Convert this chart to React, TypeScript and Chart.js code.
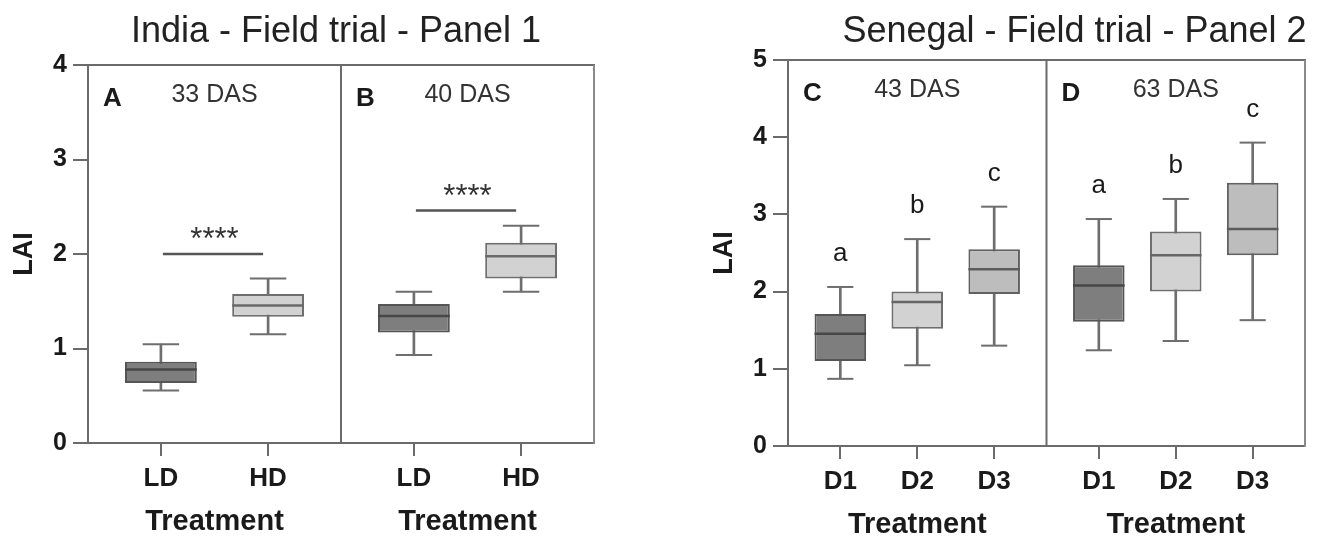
import React, { useEffect, useRef } from 'react';
import { Chart, registerables } from 'chart.js';

Chart.register(...registerables);

const FONT = '"Liberation Sans", Arial, Helvetica, sans-serif';

// ---------- India - Panel 1 ----------
const indiaTitle = 'India - Field trial - Panel 1';
const indiaPanels = ['A', 'B'];
const indiaStages = ['33 DAS', '40 DAS'];
const indiaTreatments = ['LD', 'HD'];
const indiaMin = [[0.555, 1.152], [0.93, 1.6]];
const indiaQ1 = [[0.636, 1.336], [1.17, 1.74]];
const indiaMedian = [[0.777, 1.456], [1.343, 1.976]];
const indiaQ3 = [[0.859, 1.576], [1.47, 2.12]];
const indiaMax = [[1.046, 1.74], [1.6, 2.3]];
const indiaSigLevel = [2.0, 2.46];
const indiaSigText = ['****', '****'];
const indiaYMax = 4;

// ---------- Senegal - Panel 2 ----------
const senegalTitle = 'Senegal - Field trial - Panel 2';
const senegalPanels = ['C', 'D'];
const senegalStages = ['43 DAS', '63 DAS'];
const senegalTreatments = ['D1', 'D2', 'D3'];
const senegalMin = [[0.87, 1.046, 1.3], [1.24, 1.36, 1.63]];
const senegalQ1 = [[1.1, 1.52, 1.97], [1.61, 2.0, 2.47]];
const senegalMedian = [[1.455, 1.865, 2.29], [2.08, 2.47, 2.81]];
const senegalQ3 = [[1.71, 2.0, 2.55], [2.34, 2.78, 3.41]];
const senegalMax = [[2.06, 2.68, 3.1], [2.94, 3.2, 3.93]];
const senegalLetters = [['a', 'b', 'c'], ['a', 'b', 'c']];
const senegalYMax = 5;

const xTitle = 'Treatment';
const yTitle = 'LAI';

// ---------- styles ----------
const AXIS = '#6b6b6b';
const FRAME = '#8a8a8a';
const WHISKER = '#6e6e6e';
const TEXT = '#1a1a1a';
const indiaFill = ['#7e7e7e', '#d2d2d2'];
const indiaEdge = ['#555555', '#6e6e6e'];
const indiaMed = ['#474747', '#6a6a6a'];
const senegalFill = ['#7e7e7e', '#d2d2d2', '#bdbdbd'];
const senegalEdge = ['#555555', '#6e6e6e', '#616161'];
const senegalMed = ['#474747', '#666666', '#5c5c5c'];

const M = 0.68;

type Spec = {
  title: string;
  titleDx: number;
  panels: string[];
  stages: string[];
  cats: string[];
  mins: number[][];
  q1: number[][];
  med: number[][];
  q3: number[][];
  maxs: number[][];
  yMax: number;
  sig?: number[];
  sigText?: string[];
  letters?: string[][];
  fills: string[];
  edges: string[];
  meds: string[];
  left: number;
  width: number;
  padTop: number;
  padRight: number;
  xHeight: number;
};

const indiaSpec: Spec = {
  title: indiaTitle, titleDx: -5, panels: indiaPanels, stages: indiaStages, cats: indiaTreatments,
  mins: indiaMin, q1: indiaQ1, med: indiaMedian, q3: indiaQ3, maxs: indiaMax, yMax: indiaYMax,
  sig: indiaSigLevel, sigText: indiaSigText, fills: indiaFill, edges: indiaEdge, meds: indiaMed,
  left: 0, width: 620, padTop: 65, padRight: 26, xHeight: 95,
};

const senegalSpec: Spec = {
  title: senegalTitle, titleDx: 28, panels: senegalPanels, stages: senegalStages, cats: senegalTreatments,
  mins: senegalMin, q1: senegalQ1, med: senegalMedian, q3: senegalQ3, maxs: senegalMax, yMax: senegalYMax,
  letters: senegalLetters, fills: senegalFill, edges: senegalEdge, meds: senegalMed,
  left: 700, width: 623, padTop: 60, padRight: 18, xHeight: 92,
};

const unitPx = (chart: any) => {
  const s = chart.scales.x;
  return Math.abs(s.getPixelForValue(1) - s.getPixelForValue(0));
};

const decorPlugin = {
  id: 'panelDecor',
  afterDraw(chart: any, _args: any, o: any) {
    const { ctx, chartArea } = chart;
    const { left, right, top, bottom } = chartArea;
    const x = chart.scales.x;
    const y = chart.scales.y;
    const line = (x1: number, y1: number, x2: number, y2: number) => {
      ctx.beginPath();
      ctx.moveTo(x1, y1);
      ctx.lineTo(x2, y2);
      ctx.stroke();
    };
    ctx.save();
    // frame
    ctx.lineWidth = 2;
    ctx.strokeStyle = AXIS;
    line(left - 1, top, right + 1, top);
    ctx.strokeStyle = FRAME;
    line(right, top, right, bottom + 1);
    o.dividers.forEach((d: number) => {
      const px = x.getPixelForValue(d);
      ctx.strokeStyle = AXIS;
      line(px, top, px, bottom);
    });
    // title
    ctx.fillStyle = '#222';
    ctx.font = `36px ${FONT}`;
    ctx.textAlign = 'center';
    ctx.textBaseline = 'alphabetic';
    ctx.fillText(o.title, (left + right) / 2 + o.titleDx, 42);

    const nG = o.stages.length;
    for (let g = 0; g < nG; g++) {
      const gl = g === 0 ? left : x.getPixelForValue(o.dividers[g - 1]);
      const gr = g === nG - 1 ? right : x.getPixelForValue(o.dividers[g]);
      ctx.fillStyle = TEXT;
      ctx.font = `bold 26px ${FONT}`;
      ctx.textAlign = 'left';
      ctx.fillText(o.panels[g], gl + 15, top + 41);
      ctx.fillStyle = '#333';
      ctx.font = `25px ${FONT}`;
      ctx.textAlign = 'center';
      ctx.fillText(o.stages[g], (gl + gr) / 2, top + 37);
      ctx.fillStyle = TEXT;
      ctx.font = `bold 29px ${FONT}`;
      ctx.fillText(o.xTitle, x.getPixelForValue(o.centers[g]), bottom + 87);
    }
    // significance bars
    if (o.sig) {
      const nC = o.nC;
      o.sig.forEach((lvl: number, g: number) => {
        const x1 = x.getPixelForValue(o.xs[g * nC]);
        const x2 = x.getPixelForValue(o.xs[g * nC + nC - 1]);
        const py = y.getPixelForValue(lvl);
        ctx.strokeStyle = '#555';
        ctx.lineWidth = 2.5;
        line(x1 + 2, py, x2 - 5, py);
        ctx.fillStyle = '#333';
        ctx.font = `31px ${FONT}`;
        ctx.textAlign = 'center';
        ctx.fillText(o.sigText[g], (x1 + x2) / 2, py - 5);
      });
    }
    // group letters
    if (o.letters) {
      ctx.fillStyle = TEXT;
      ctx.font = `26px ${FONT}`;
      ctx.textAlign = 'center';
      o.letters.flat().forEach((t: string, k: number) => {
        const px = x.getPixelForValue(o.xs[k]);
        const py = y.getPixelForValue(o.maxF[k]);
        ctx.fillText(t, px, py - 26);
      });
    }
    ctx.restore();
  },
};

function BoxPanel({ spec }: { spec: Spec }) {
  const ref = useRef<HTMLCanvasElement | null>(null);
  useEffect(() => {
    if (!ref.current) return;
    const nG = spec.stages.length;
    const nC = spec.cats.length;
    const xs: number[] = [];
    const dividers: number[] = [];
    const centers: number[] = [];
    let start = 0;
    for (let g = 0; g < nG; g++) {
      for (let i = 0; i < nC; i++) xs.push(start + i);
      centers.push(start + (nC - 1) / 2);
      if (g < nG - 1) dividers.push(start + nC - 1 + M);
      start += nC - 1 + 2 * M;
    }
    const xMin = -M;
    const xMax = start - M;
    const minF = spec.mins.flat();
    const q1F = spec.q1.flat();
    const medF = spec.med.flat();
    const q3F = spec.q3.flat();
    const maxF = spec.maxs.flat();
    const fillF = xs.map((_, k) => spec.fills[k % nC]);
    const edgeF = xs.map((_, k) => spec.edges[k % nC]);
    const medC = xs.map((_, k) => spec.meds[k % nC]);

    const chart = new Chart(ref.current, {
      type: 'bar',
      data: {
        datasets: [
          {
            type: 'bar',
            label: 'whisker',
            data: xs.map((x, k) => ({ x, y: [minF[k], maxF[k]] })) as any,
            backgroundColor: WHISKER,
            borderWidth: 0,
            barThickness: 2,
            grouped: false,
            order: 3,
          } as any,
          {
            type: 'bar',
            label: 'box',
            data: xs.map((x, k) => ({ x, y: [q1F[k], q3F[k]] })) as any,
            backgroundColor: fillF,
            borderColor: edgeF,
            borderWidth: 2,
            borderSkipped: false,
            grouped: false,
            categoryPercentage: 1,
            barPercentage: 0.67,
            order: 2,
          } as any,
          {
            type: 'scatter',
            label: 'median',
            data: xs.map((x, k) => ({ x, y: medF[k] })),
            pointStyle: 'line',
            pointRadius: (c: any) => unitPx(c.chart) * 0.335,
            pointBorderColor: medC,
            pointBorderWidth: 2.5,
            order: 1,
          } as any,
          {
            type: 'scatter',
            label: 'caps',
            data: [
              ...xs.map((x, k) => ({ x, y: minF[k] })),
              ...xs.map((x, k) => ({ x, y: maxF[k] })),
            ],
            pointStyle: 'line',
            pointRadius: (c: any) => unitPx(c.chart) * 0.17,
            pointBorderColor: WHISKER,
            pointBorderWidth: 2,
            order: 1,
          } as any,
        ],
      },
      options: {
        animation: false,
        responsive: false,
        events: [],
        layout: {
          padding: { top: spec.padTop, left: 8, right: spec.padRight, bottom: 0 },
          autoPadding: false,
        },
        plugins: {
          legend: { display: false },
          tooltip: { enabled: false },
          title: { display: false },
          panelDecor: {
            title: spec.title,
            titleDx: spec.titleDx,
            panels: spec.panels,
            stages: spec.stages,
            xTitle,
            dividers,
            centers,
            xs,
            nC,
            sig: spec.sig,
            sigText: spec.sigText,
            letters: spec.letters,
            maxF,
          },
        } as any,
        scales: {
          x: {
            type: 'linear',
            offset: false,
            min: xMin,
            max: xMax,
            bounds: 'data',
            afterBuildTicks: (s: any) => {
              s.ticks = xs.map((v) => ({ value: v }));
            },
            afterFit: (s: any) => {
              s.height = spec.xHeight;
            },
            ticks: {
              callback: (_v: any, i: number) => spec.cats[i % nC],
              font: { family: FONT, size: 26, weight: 'bold' },
              color: TEXT,
              padding: 7,
              maxRotation: 0,
              autoSkip: false,
            },
            grid: { offset: false, drawOnChartArea: false, drawTicks: true, tickLength: 13, color: AXIS, lineWidth: 2 },
            border: { display: true, color: AXIS, width: 2 },
          },
          y: {
            type: 'linear',
            min: 0,
            max: spec.yMax,
            afterFit: (s: any) => {
              s.width = 80;
            },
            ticks: {
              stepSize: 1,
              font: { family: FONT, size: 25, weight: 'bold' },
              color: TEXT,
              padding: 6,
            },
            grid: { drawOnChartArea: false, drawTicks: true, tickLength: 15, color: AXIS, lineWidth: 2 },
            border: { display: true, color: AXIS, width: 2 },
            title: {
              display: true,
              text: yTitle,
              font: { family: FONT, size: 27, weight: 'bold' },
              color: TEXT,
              padding: { top: 0, bottom: 0 },
            },
          },
        } as any,
      },
      plugins: [decorPlugin],
    });
    return () => chart.destroy();
  }, [spec]);

  return (
    <div style={{ position: 'absolute', left: spec.left, top: 0, width: spec.width, height: 538 }}>
      <canvas ref={ref} width={spec.width} height={538} style={{ display: 'block' }} />
    </div>
  );
}

export default function App() {
  return (
    <div
      style={{
        position: 'fixed',
        left: 0,
        top: 0,
        width: 1323,
        height: 538,
        background: '#ffffff',
        overflow: 'hidden',
      }}
    >
      <BoxPanel spec={indiaSpec} />
      <BoxPanel spec={senegalSpec} />
    </div>
  );
}
